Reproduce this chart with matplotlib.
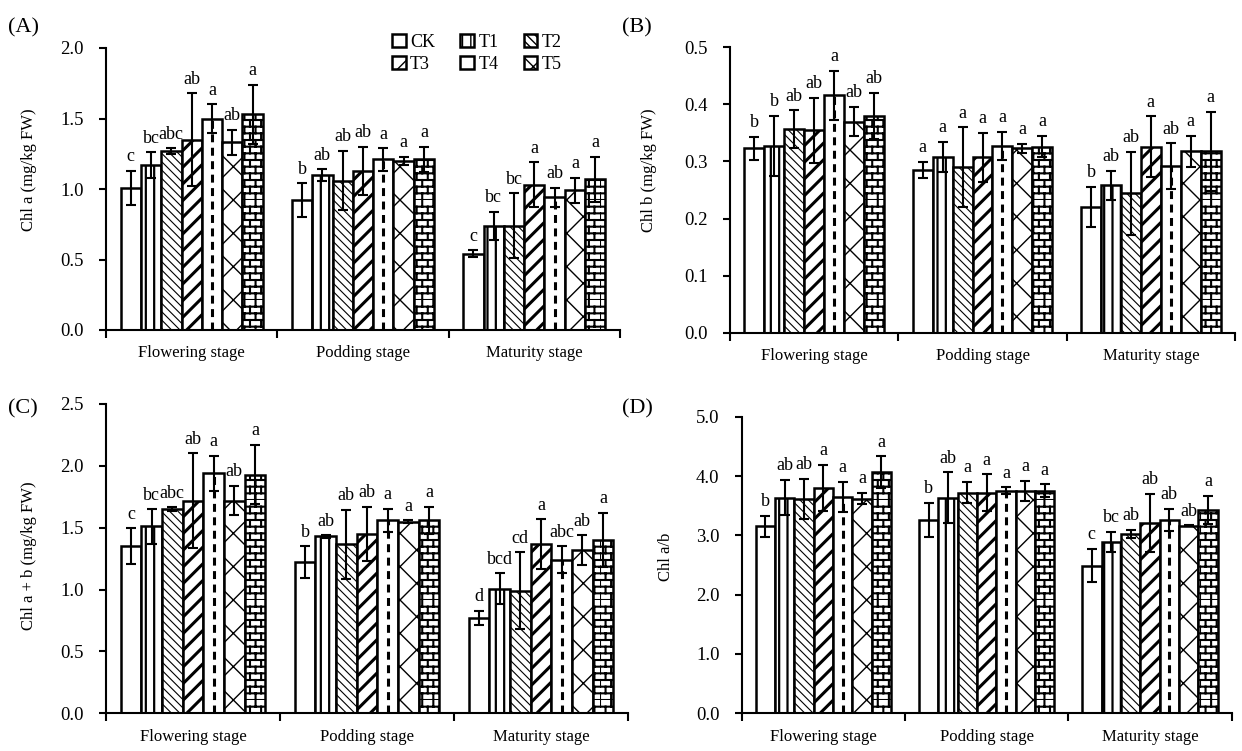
import warnings
import numpy as np
import matplotlib
matplotlib.use('Agg')
import matplotlib.pyplot as plt
import matplotlib.hatch as mhatch
from matplotlib.path import Path

warnings.filterwarnings('ignore')

# --- data (stage x treatment) ---
stages = ['Flowering stage', 'Podding stage', 'Maturity stage']
treatments = ['CK', 'T1', 'T2', 'T3', 'T4', 'T5', 'T6']

chla_mean = [[1.01, 1.17, 1.27, 1.35, 1.50, 1.33, 1.53],
             [0.92, 1.10, 1.06, 1.13, 1.21, 1.20, 1.21],
             [0.54, 0.74, 0.74, 1.03, 0.94, 0.99, 1.07]]
chla_err = [[0.12, 0.09, 0.02, 0.33, 0.10, 0.09, 0.21],
            [0.12, 0.04, 0.21, 0.17, 0.08, 0.03, 0.09],
            [0.025, 0.10, 0.23, 0.16, 0.07, 0.09, 0.16]]
chla_letters = [['c', 'bc', 'abc', 'ab', 'a', 'ab', 'a'],
                ['b', 'ab', 'ab', 'ab', 'a', 'a', 'a'],
                ['c', 'bc', 'bc', 'a', 'ab', 'a', 'a']]

chlb_mean = [[0.323, 0.327, 0.357, 0.355, 0.416, 0.370, 0.380],
             [0.285, 0.308, 0.290, 0.307, 0.327, 0.323, 0.326],
             [0.221, 0.258, 0.244, 0.326, 0.292, 0.318, 0.318]]
chlb_err = [[0.020, 0.053, 0.033, 0.057, 0.043, 0.026, 0.040],
            [0.014, 0.026, 0.070, 0.043, 0.025, 0.008, 0.019],
            [0.035, 0.026, 0.073, 0.053, 0.040, 0.027, 0.069]]
chlb_letters = [['b', 'b', 'ab', 'ab', 'a', 'ab', 'ab'],
                ['a', 'a', 'a', 'a', 'a', 'a', 'a'],
                ['b', 'ab', 'ab', 'a', 'ab', 'a', 'a']]

chlab_mean = [[1.35, 1.51, 1.65, 1.72, 1.94, 1.72, 1.93],
              [1.22, 1.43, 1.365, 1.45, 1.56, 1.55, 1.56],
              [0.77, 1.005, 0.99, 1.37, 1.24, 1.32, 1.40]]
chlab_err = [[0.146, 0.14, 0.015, 0.38, 0.14, 0.12, 0.24],
             [0.13, 0.01, 0.28, 0.22, 0.095, 0.01, 0.11],
             [0.06, 0.125, 0.31, 0.20, 0.11, 0.12, 0.22]]
chlab_letters = [['c', 'bc', 'abc', 'ab', 'a', 'ab', 'a'],
                 ['b', 'ab', 'ab', 'ab', 'a', 'a', 'a'],
                 ['d', 'bcd', 'cd', 'a', 'abc', 'ab', 'a']]

ratio_mean = [[3.15, 3.635, 3.61, 3.80, 3.65, 3.62, 4.06],
              [3.26, 3.635, 3.72, 3.72, 3.75, 3.75, 3.75],
              [2.49, 2.89, 3.02, 3.21, 3.26, 3.16, 3.43]]
ratio_err = [[0.18, 0.30, 0.34, 0.39, 0.25, 0.10, 0.27],
             [0.29, 0.43, 0.18, 0.31, 0.06, 0.17, 0.11],
             [0.28, 0.17, 0.07, 0.49, 0.19, 0.01, 0.24]]
ratio_letters = [['b', 'ab', 'ab', 'a', 'a', 'a', 'a'],
                 ['b', 'ab', 'a', 'a', 'a', 'a', 'a'],
                 ['c', 'bc', 'ab', 'ab', 'ab', 'ab', 'a']]


# --- brick hatch (not built into matplotlib) ---
class BrickHatch(mhatch.HatchPatternBase):
    def __init__(self, hatch, density):
        n = hatch.count('B')
        self.rows = int(n * density * 2.5)
        self.cols = int(n * density * 1.6)
        self.num_vertices = (self.rows + self.rows * self.cols) * 2

    def set_vertices_and_codes(self, vertices, codes):
        if self.num_vertices == 0:
            return
        k = 0
        for r in range(self.rows):
            y0 = r / self.rows
            vertices[k] = (0.0, y0)
            vertices[k + 1] = (1.0, y0)
            codes[k] = Path.MOVETO
            codes[k + 1] = Path.LINETO
            k += 2
            shift = 0.5 if r % 2 else 0.0
            for c in range(self.cols):
                x0 = (c + shift) / self.cols
                vertices[k] = (x0, y0)
                vertices[k + 1] = (x0, (r + 1) / self.rows)
                codes[k] = Path.MOVETO
                codes[k + 1] = Path.LINETO
                k += 2


mhatch._hatch_types.append(BrickHatch)

plt.rcParams['font.family'] = ['Liberation Serif', 'DejaVu Serif']
plt.rcParams['font.size'] = 12

hatches = [None, '||', '\\\\\\\\', '//', None, 'x', 'B']
hatch_lw = [1.0, 1.6, 0.8, 2.2, 1.0, 1.0, 1.5]

fig = plt.figure(figsize=(12.42, 7.51), dpi=100)
W, H = 1242.0, 751.0


def make_ax(left, right, bottom, top):
    return fig.add_axes([left / W, 1 - bottom / H, (right - left) / W, (bottom - top) / H])


def draw_panel(ax, means, errs, letters, ymax, ystep, ylabel, ylab_xy, panel, panel_xy):
    means = np.array(means)
    errs = np.array(errs)
    n_t = means.shape[1]
    width = 0.83 / n_t
    centers = np.arange(len(stages)) + 0.5
    handles = []
    for i in range(n_t):
        xs = centers + (i - (n_t - 1) / 2) * width
        with plt.rc_context({'hatch.linewidth': hatch_lw[i]}):
            bars = ax.bar(xs, means[:, i], width, color='white', edgecolor='black',
                          linewidth=1.8, hatch=hatches[i], zorder=2,
                          label=treatments[i])
            for b in bars:
                if hasattr(b, 'set_hatch_linewidth'):
                    b.set_hatch_linewidth(hatch_lw[i])
        handles.append(bars)
        if treatments[i] == 'T4':
            ax.vlines(xs, 0, means[:, i], colors='black', linewidth=2.2,
                      linestyles=(0, (2.6, 1.8)), zorder=3)
        ax.errorbar(xs, means[:, i], yerr=errs[:, i], fmt='none', ecolor='black',
                    elinewidth=1.5, capsize=3.3, capthick=1.5, zorder=4)
        for j in range(len(stages)):
            ax.annotate(letters[j][i], (xs[j], means[j, i] + errs[j, i]),
                        xytext=(0, 4), textcoords='offset points',
                        ha='center', va='bottom', fontsize=13)

    ax.set_xlim(0, len(stages))
    ax.set_ylim(0, ymax)
    ax.set_yticks(np.arange(0, ymax + ystep / 2, ystep))
    ax.yaxis.set_major_formatter(plt.FormatStrFormatter('%.1f'))
    ax.set_xticks(np.arange(len(stages) + 1))
    ax.set_xticklabels([])
    ax.set_xticks(centers, minor=True)
    ax.set_xticklabels(stages, minor=True)
    ax.tick_params(axis='x', which='minor', length=0, pad=11, labelsize=12)
    ax.tick_params(axis='x', which='major', direction='out', length=6, width=1.5)
    ax.tick_params(axis='y', direction='out', length=5, width=1.5, pad=11, labelsize=13.5)
    for s in ['top', 'right']:
        ax.spines[s].set_visible(False)
    for s in ['left', 'bottom']:
        ax.spines[s].set_linewidth(1.5)
    ax.set_ylabel(ylabel, fontsize=12)
    ax.yaxis.set_label_coords(*ylab_xy)
    fig.text(panel_xy[0] / W, 1 - panel_xy[1] / H, panel, fontsize=16,
             ha='left', va='center')
    return handles


ax_a = make_ax(106, 620, 330, 48)
ax_b = make_ax(730, 1235, 332.7, 47.3)
ax_c = make_ax(106, 628, 713.3, 404)
ax_d = make_ax(741.7, 1231.6, 713.3, 416.7)

h = draw_panel(ax_a, chla_mean, chla_err, chla_letters, 2.0, 0.5,
               'Chl a (mg/kg FW)', (-0.134, 0.567), '(A)', (8, 28))
draw_panel(ax_b, chlb_mean, chlb_err, chlb_letters, 0.5, 0.1,
           'Chl b (mg/kg FW)', (-0.145, 0.57), '(B)', (622, 28))
draw_panel(ax_c, chlab_mean, chlab_err, chlab_letters, 2.5, 0.5,
           'Chl a + b (mg/kg FW)', (-0.133, 0.508), '(C)', (8, 409))
draw_panel(ax_d, ratio_mean, ratio_err, ratio_letters, 5.0, 1.0,
           'Chl a/b', (-0.138, 0.527), '(D)', (622, 409))

# legend: 6 entries, row-wise CK T1 T2 / T3 T4 T5
order = [0, 3, 1, 4, 2, 5]
ax_a.legend([h[k] for k in order], [treatments[k] for k in order], ncol=3,
            frameon=False, loc='upper left', bbox_transform=fig.transFigure,
            bbox_to_anchor=(383 / W, 1 - 25 / H), handlelength=0.75, handleheight=0.75,
            handletextpad=0.25, columnspacing=1.4, labelspacing=0.25, borderpad=0,
            fontsize=13)

fig.savefig('out.png', dpi=100)
